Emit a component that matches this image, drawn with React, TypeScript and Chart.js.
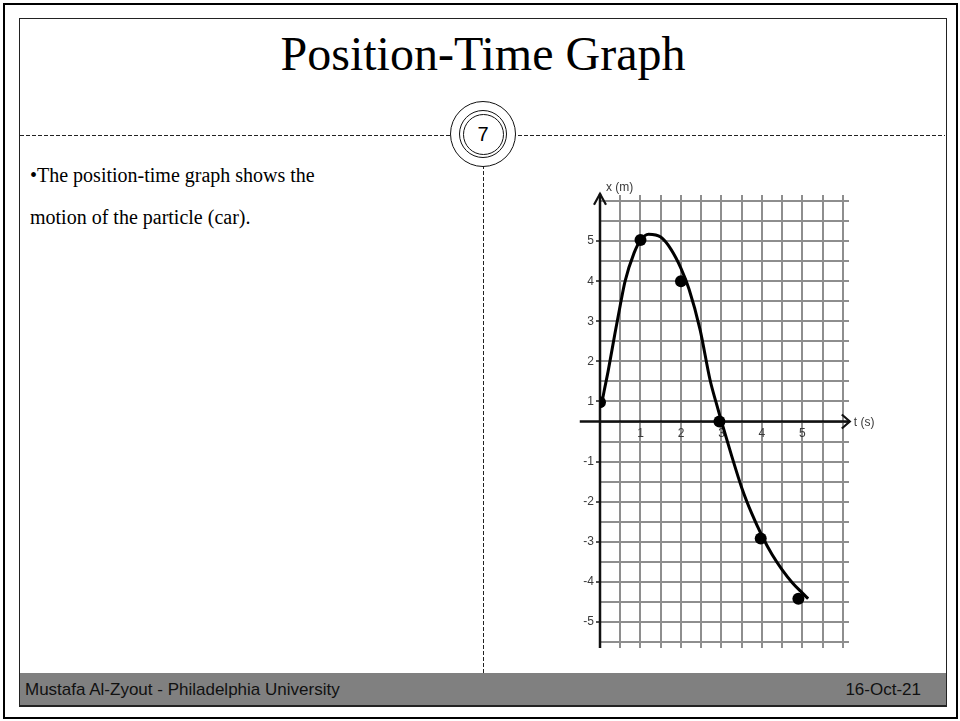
import { useEffect, useRef } from "react";
import { Chart, registerables } from "chart.js";
import type { ChartConfiguration, Plugin } from "chart.js";

Chart.register(...registerables);

// Marked instants: time t (s) and position x (m), on the grid's own scale
const dotTimes = [0, 1, 2, 2.95, 3.97, 4.9];
const dotPositions = [0.48, 4.53, 3.5, 0, -2.92, -4.42];

// Freehand path of the car drawn through the marks
const pathTimes = [0.03, 0.1, 0.2, 0.37, 0.5, 0.62, 0.84, 1.0, 1.2, 1.5, 1.75, 2.0, 2.2, 2.47, 2.72, 2.86, 3.0, 3.25, 3.5, 3.75, 4.0, 4.25, 4.5, 4.75, 5.0, 5.14];
const pathPositions = [0.38, 0.75, 1.25, 2.2, 2.9, 3.5, 4.2, 4.52, 4.67, 4.6, 4.3, 3.82, 3.3, 2.3, 1.03, 0.5, 0.0, -0.85, -1.65, -2.3, -2.85, -3.32, -3.7, -4.02, -4.28, -4.42];

// Graph-paper lines, every half unit
const timeGrid = [0, 0.5, 1, 1.5, 2, 2.5, 3, 3.5, 4, 4.5, 5, 5.5, 6];
const positionGrid = [-5.5, -5, -4.5, -4, -3.5, -3, -2.5, -2, -1.5, -1, -0.5, 0, 0.5, 1, 1.5, 2, 2.5, 3, 3.5, 4, 4.5, 5, 5.5];

// Axis numbering
const timeTickValues = [1, 2, 3, 4, 5];
const timeTickText = ["1", "2", "3", "4", "5"];
const positionTickValues = [4.5, 3.5, 2.5, 1.5, 0.5, -1, -2, -3, -4, -5];
const positionTickText = ["5", "4", "3", "2", "1", "-1", "-2", "-3", "-4", "-5"];

const GRID_COLOR = "#8e8e8e";
const LABEL_COLOR = "#3a3a3a";
const SANS = '"Liberation Sans", Arial, sans-serif';
const SERIF = '"Liberation Serif", "Times New Roman", serif';

const labelFor = (values: number[], texts: string[], v: number) => {
  const i = values.findIndex((w) => Math.abs(w - v) < 1e-6);
  return i >= 0 ? texts[i] : "";
};

// Arrowed axes through the origin, plus their names
const arrowAxes: Plugin<"line"> = {
  id: "arrowAxes",
  beforeDatasetsDraw(chart) {
    const { ctx, chartArea } = chart;
    const sx = chart.scales.x;
    const sy = chart.scales.y;
    const x0 = sx.getPixelForValue(0);
    const y0 = sy.getPixelForValue(0);
    const left = sx.getPixelForValue(-0.5);
    const right = sx.getPixelForValue(6.17);
    const top = sy.getPixelForValue(5.68);
    const bottom = chartArea.bottom;
    ctx.save();
    ctx.strokeStyle = "#111";
    ctx.lineWidth = 2.5;
    ctx.beginPath();
    ctx.moveTo(x0, bottom);
    ctx.lineTo(x0, top);
    ctx.moveTo(left, y0);
    ctx.lineTo(right, y0);
    ctx.stroke();
    ctx.lineWidth = 2.2;
    ctx.lineJoin = "miter";
    ctx.beginPath();
    ctx.moveTo(x0 - 6, top + 11);
    ctx.lineTo(x0, top);
    ctx.lineTo(x0 + 6, top + 11);
    ctx.moveTo(right - 8, y0 - 7);
    ctx.lineTo(right, y0);
    ctx.lineTo(right - 8, y0 + 7);
    ctx.stroke();
    ctx.fillStyle = LABEL_COLOR;
    ctx.font = `12px ${SANS}`;
    ctx.textBaseline = "middle";
    ctx.textAlign = "left";
    ctx.fillText("x (m)", x0 + 6, top - 6);
    ctx.fillText("t (s)", right + 4, y0 + 1);
    ctx.restore();
  },
};

function buildConfig(): ChartConfiguration<"line"> {
  return {
    type: "line",
    data: {
      datasets: [
        {
          label: "marks",
          data: dotTimes.map((t, i) => ({ x: t, y: dotPositions[i] })),
          showLine: false,
          pointRadius: 6,
          pointBackgroundColor: "#000",
          pointBorderWidth: 0,
          order: 0,
        },
        {
          label: "path",
          data: pathTimes.map((t, i) => ({ x: t, y: pathPositions[i] })),
          borderColor: "#000",
          borderWidth: 3,
          pointRadius: 0,
          cubicInterpolationMode: "monotone",
          fill: false,
          order: 1,
        },
      ],
    },
    options: {
      animation: false,
      responsive: false,
      devicePixelRatio: 1,
      layout: { autoPadding: false, padding: { left: 0, top: 35, right: 71, bottom: 22 } },
      plugins: { legend: { display: false }, tooltip: { enabled: false } },
      events: [],
      scales: {
        x: {
          type: "linear",
          axis: "x",
          position: { y: 0 },
          min: 0,
          max: 6.15,
          afterBuildTicks: (s) => {
            s.ticks = timeGrid.map((v) => ({ value: v }));
          },
          border: { display: false },
          grid: { color: GRID_COLOR, lineWidth: 2, drawTicks: false },
          ticks: {
            autoSkip: false,
            maxRotation: 0,
            padding: 5,
            color: LABEL_COLOR,
            font: { family: SANS, size: 12 },
            callback: (v) => labelFor(timeTickValues, timeTickText, Number(v)),
          },
        },
        y: {
          type: "linear",
          position: "left",
          min: -5.65,
          max: 5.65,
          afterBuildTicks: (s) => {
            s.ticks = positionGrid.map((v) => ({ value: v }));
          },
          afterFit: (s) => {
            s.width = 60;
          },
          border: { display: false },
          grid: {
            color: GRID_COLOR,
            lineWidth: 2,
            tickLength: 4,
            tickColor: (c: any) =>
              c.tick && labelFor(positionTickValues, positionTickText, c.tick.value) ? "#555" : "rgba(0,0,0,0)",
          },
          ticks: {
            autoSkip: false,
            padding: 2,
            color: LABEL_COLOR,
            font: { family: SANS, size: 12 },
            callback: (v) => labelFor(positionTickValues, positionTickText, Number(v)),
          },
        },
      },
    },
    plugins: [arrowAxes],
  };
}

const dashH = "repeating-linear-gradient(to right, #222 0 4px, transparent 4px 6px)";
const dashV = "repeating-linear-gradient(to bottom, #222 0 4px, transparent 4px 6px)";

export default function App() {
  const canvasRef = useRef<HTMLCanvasElement>(null);

  useEffect(() => {
    if (!canvasRef.current) return;
    const chart = new Chart(canvasRef.current, buildConfig());
    return () => chart.destroy();
  }, []);

  return (
    <div
      style={{
        position: "fixed",
        left: 0,
        top: 0,
        width: 960,
        height: 721,
        background: "#fff",
        overflow: "hidden",
      }}
    >
      {/* slide frames */}
      <div style={{ position: "absolute", left: 3, top: 3, width: 955, height: 716, border: "2px solid #000", boxSizing: "border-box" }} />
      <div style={{ position: "absolute", left: 19, top: 18, width: 928, height: 689, border: "1px solid #222", boxSizing: "border-box" }} />

      {/* title */}
      <div
        style={{
          position: "absolute",
          left: 19,
          width: 928,
          top: 30,
          textAlign: "center",
          fontFamily: SERIF,
          fontSize: 48,
          lineHeight: "48px",
          color: "#000",
          whiteSpace: "nowrap",
        }}
      >
        Position-Time Graph
      </div>

      {/* dashed rules */}
      <div style={{ position: "absolute", left: 20, top: 135, width: 925, height: 1, background: dashH }} />
      <div style={{ position: "absolute", left: 483, top: 135, width: 1, height: 538, background: dashV }} />

      {/* slide number badge */}
      <div
        style={{
          position: "absolute",
          left: 483 - 33,
          top: 134 - 33,
          width: 66,
          height: 66,
          borderRadius: "50%",
          border: "1px solid #111",
          background: "#fff",
          boxSizing: "border-box",
        }}
      />
      <div
        style={{
          position: "absolute",
          left: 483 - 24,
          top: 134 - 24,
          width: 48,
          height: 48,
          borderRadius: "50%",
          border: "1.3px solid #111",
          boxSizing: "border-box",
        }}
      />
      <div
        style={{
          position: "absolute",
          left: 483 - 20.5,
          top: 134 - 20.5,
          width: 41,
          height: 41,
          borderRadius: "50%",
          border: "1.3px solid #111",
          boxSizing: "border-box",
          display: "flex",
          alignItems: "center",
          justifyContent: "center",
          fontFamily: SANS,
          fontSize: 20,
          color: "#000",
        }}
      >
        7
      </div>

      {/* bullet text */}
      <div
        style={{
          position: "absolute",
          left: 30,
          top: 162,
          fontFamily: SERIF,
          fontSize: 20,
          lineHeight: "42px",
          color: "#000",
          whiteSpace: "nowrap",
        }}
      >
        <div style={{ marginTop: -8 }}>•The position-time graph shows the</div>
        <div>motion of the particle (car).</div>
      </div>

      {/* chart */}
      <canvas
        ref={canvasRef}
        width={380}
        height={510}
        style={{ position: "absolute", left: 540, top: 160, width: 380, height: 510 }}
      />

      {/* footer */}
      <div
        style={{
          position: "absolute",
          left: 20,
          top: 673,
          width: 926,
          height: 33,
          background: "#808080",
          borderBottom: "1px solid #222",
          boxSizing: "border-box",
        }}
      />
      <div
        style={{
          position: "absolute",
          left: 25,
          top: 680,
          fontFamily: SANS,
          fontSize: 17,
          lineHeight: "20px",
          color: "#111",
          whiteSpace: "nowrap",
        }}
      >
        Mustafa Al-Zyout - Philadelphia University
      </div>
      <div
        style={{
          position: "absolute",
          right: 960 - 921,
          top: 680,
          fontFamily: SANS,
          fontSize: 17,
          lineHeight: "20px",
          color: "#111",
          whiteSpace: "nowrap",
        }}
      >
        16-Oct-21
      </div>
    </div>
  );
}
